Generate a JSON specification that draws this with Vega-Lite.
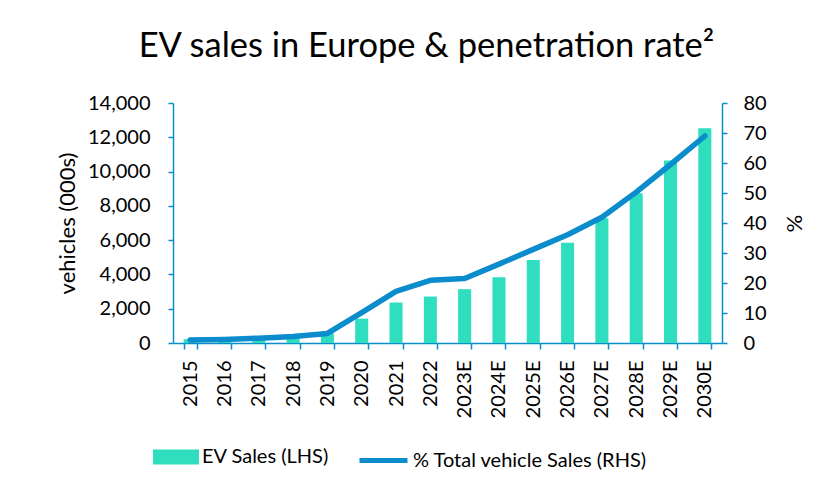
{
  "$schema": "https://vega.github.io/schema/vega-lite/v6.json",
  "width": 549,
  "height": 240,
  "autosize": "none",
  "padding": {"left": 173, "top": 103, "right": 100, "bottom": 151},
  "background": "white",
  "config": {"view": {"stroke": null}, "font": "Lato"},
  "title": {"text": "EV sales in Europe & penetration rate²", "fontSize": 34.5, "font": "Lato", "fontWeight": "normal", "color": "black", "anchor": "middle", "dx": -21, "offset": 29},
  "data": {"values": [
    {"year": "2015", "ev": 220, "pct": 1.0},
    {"year": "2016", "ev": 150, "pct": 1.2},
    {"year": "2017", "ev": 200, "pct": 1.6},
    {"year": "2018", "ev": 340, "pct": 2.2},
    {"year": "2019", "ev": 560, "pct": 3.2},
    {"year": "2020", "ev": 1420, "pct": 10.1},
    {"year": "2021", "ev": 2360, "pct": 17.2},
    {"year": "2022", "ev": 2710, "pct": 20.9},
    {"year": "2023E", "ev": 3140, "pct": 21.5},
    {"year": "2024E", "ev": 3840, "pct": 26.3},
    {"year": "2025E", "ev": 4840, "pct": 31.2},
    {"year": "2026E", "ev": 5850, "pct": 36.1},
    {"year": "2027E", "ev": 7270, "pct": 41.9},
    {"year": "2028E", "ev": 8730, "pct": 50.3},
    {"year": "2029E", "ev": 10640, "pct": 59.5},
    {"year": "2030E", "ev": 12530, "pct": 69.0}
  ]},
  "encoding": {
    "x": {
      "field": "year", "type": "ordinal", "sort": null,
      "scale": {"paddingInner": 0.62, "paddingOuter": 0.31},
      "axis": {"title": null, "labelAngle": -90, "labelFontSize": 20, "labelColor": "black", "domainColor": "#0A8CCD", "tickColor": "#0A8CCD", "tickBand": "extent", "tickSize": 6, "labelPadding": 11, "domainWidth": 1.5, "tickWidth": 1.5}
    }
  },
  "layer": [
    {
      "mark": {"type": "bar"},
      "encoding": {
        "y": {"field": "ev", "type": "quantitative", "scale": {"domain": [0, 14000]},
          "axis": {"title": "vehicles (000s)", "titleFontSize": 22, "titleFontWeight": "normal", "titleColor": "black", "titlePadding": 8, "values": [0, 2000, 4000, 6000, 8000, 10000, 12000, 14000], "format": ",.0f", "labelFontSize": 20, "labelColor": "black", "labelPadding": 18, "tickSize": 5, "grid": false, "domainColor": "#0A8CCD", "tickColor": "#0A8CCD", "domainWidth": 1.5, "tickWidth": 1.5}},
        "fill": {"datum": "EV Sales (LHS)", "scale": {"range": ["#2FDDBF"]},
          "legend": {"orient": "none", "legendX": -20, "legendY": 331, "title": null, "symbolType": "M-1,-0.33H1V0.33H-1Z", "symbolSize": 2116, "symbolStrokeWidth": 0, "labelFontSize": 20, "labelColor": "black", "labelOffset": 3, "labelLimit": 400}}
      }
    },
    {
      "mark": {"type": "line", "strokeWidth": 5.5, "strokeCap": "round", "strokeJoin": "round"},
      "encoding": {
        "y": {"field": "pct", "type": "quantitative", "scale": {"domain": [0, 80]},
          "axis": {"orient": "right", "title": "%", "titleFontSize": 22, "titleFontWeight": "normal", "titleColor": "black", "titlePadding": 15, "values": [0, 10, 20, 30, 40, 50, 60, 70, 80], "labelFontSize": 20, "labelColor": "black", "labelPadding": 16, "tickSize": 5, "grid": false, "domainColor": "#0A8CCD", "tickColor": "#0A8CCD", "domainWidth": 1.5, "tickWidth": 1.5}},
        "stroke": {"datum": "% Total vehicle Sales (RHS)", "scale": {"range": ["#0A8CCD"]},
          "legend": {"orient": "none", "legendX": 184, "legendY": 331, "title": null, "symbolType": "stroke", "symbolSize": 2304, "symbolStrokeWidth": 5, "labelFontSize": 20, "labelColor": "black", "labelOffset": 3, "labelLimit": 400}}
      }
    }
  ],
  "resolve": {"scale": {"y": "independent"}}
}
